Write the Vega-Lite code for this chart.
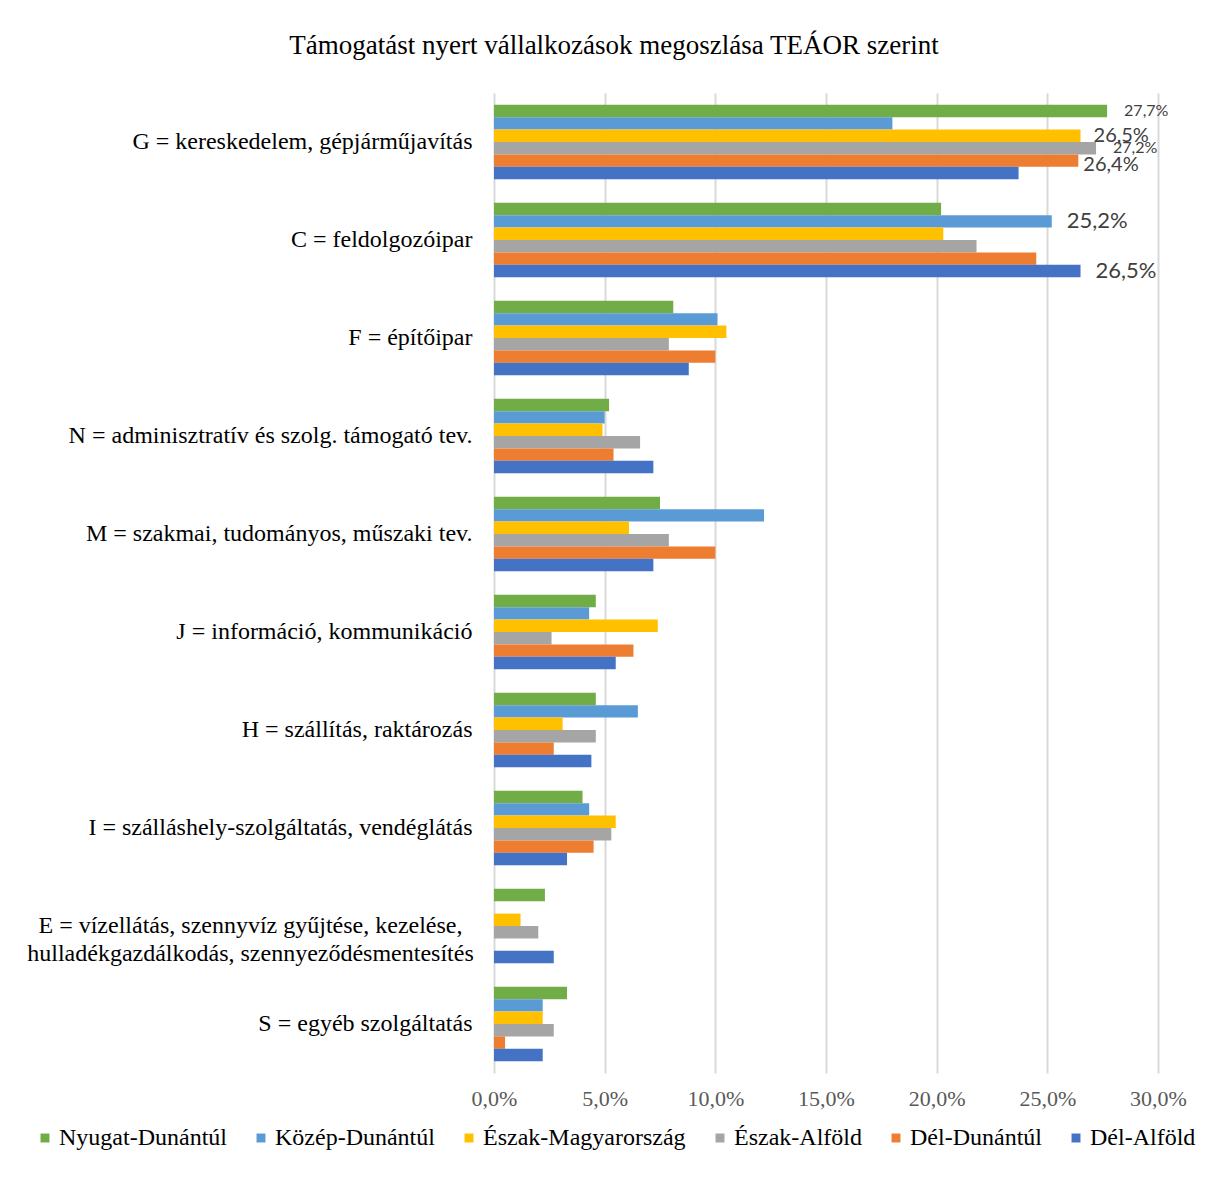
{
  "$schema": "https://vega.github.io/schema/vega-lite/v6.json",
  "autosize": {"type": "none"},
  "padding": {"left": 494, "top": 93, "right": 50, "bottom": 107},
  "width": 664,
  "height": 980,
  "background": "white",
  "config": {
    "locale": {"number": {"decimal": ",", "thousands": " ", "grouping": [3], "currency": ["", " Ft"]}},
    "view": {"stroke": null},
    "font": "Liberation Serif"
  },
  "title": {
    "text": "Támogatást nyert vállalkozások megoszlása TEÁOR szerint",
    "font": "Liberation Serif",
    "fontSize": 27,
    "fontWeight": "normal",
    "color": "#000000",
    "anchor": "middle",
    "frame": "group",
    "dx": -212,
    "offset": 33
  },
  "data": {
    "values": [
      {"cat": "G = kereskedelem, gépjárműjavítás", "region": "Nyugat-Dunántúl", "value": 0.277},
      {"cat": "G = kereskedelem, gépjárműjavítás", "region": "Közép-Dunántúl", "value": 0.180},
      {"cat": "G = kereskedelem, gépjárműjavítás", "region": "Észak-Magyarország", "value": 0.265},
      {"cat": "G = kereskedelem, gépjárműjavítás", "region": "Észak-Alföld", "value": 0.272},
      {"cat": "G = kereskedelem, gépjárműjavítás", "region": "Dél-Dunántúl", "value": 0.264},
      {"cat": "G = kereskedelem, gépjárműjavítás", "region": "Dél-Alföld", "value": 0.237},
      {"cat": "C = feldolgozóipar", "region": "Nyugat-Dunántúl", "value": 0.202},
      {"cat": "C = feldolgozóipar", "region": "Közép-Dunántúl", "value": 0.252},
      {"cat": "C = feldolgozóipar", "region": "Észak-Magyarország", "value": 0.203},
      {"cat": "C = feldolgozóipar", "region": "Észak-Alföld", "value": 0.218},
      {"cat": "C = feldolgozóipar", "region": "Dél-Dunántúl", "value": 0.245},
      {"cat": "C = feldolgozóipar", "region": "Dél-Alföld", "value": 0.265},
      {"cat": "F = építőipar", "region": "Nyugat-Dunántúl", "value": 0.081},
      {"cat": "F = építőipar", "region": "Közép-Dunántúl", "value": 0.101},
      {"cat": "F = építőipar", "region": "Észak-Magyarország", "value": 0.105},
      {"cat": "F = építőipar", "region": "Észak-Alföld", "value": 0.079},
      {"cat": "F = építőipar", "region": "Dél-Dunántúl", "value": 0.100},
      {"cat": "F = építőipar", "region": "Dél-Alföld", "value": 0.088},
      {"cat": "N = adminisztratív és szolg. támogató tev.", "region": "Nyugat-Dunántúl", "value": 0.052},
      {"cat": "N = adminisztratív és szolg. támogató tev.", "region": "Közép-Dunántúl", "value": 0.050},
      {"cat": "N = adminisztratív és szolg. támogató tev.", "region": "Észak-Magyarország", "value": 0.049},
      {"cat": "N = adminisztratív és szolg. támogató tev.", "region": "Észak-Alföld", "value": 0.066},
      {"cat": "N = adminisztratív és szolg. támogató tev.", "region": "Dél-Dunántúl", "value": 0.054},
      {"cat": "N = adminisztratív és szolg. támogató tev.", "region": "Dél-Alföld", "value": 0.072},
      {"cat": "M = szakmai, tudományos, műszaki tev.", "region": "Nyugat-Dunántúl", "value": 0.075},
      {"cat": "M = szakmai, tudományos, műszaki tev.", "region": "Közép-Dunántúl", "value": 0.122},
      {"cat": "M = szakmai, tudományos, műszaki tev.", "region": "Észak-Magyarország", "value": 0.061},
      {"cat": "M = szakmai, tudományos, műszaki tev.", "region": "Észak-Alföld", "value": 0.079},
      {"cat": "M = szakmai, tudományos, műszaki tev.", "region": "Dél-Dunántúl", "value": 0.100},
      {"cat": "M = szakmai, tudományos, műszaki tev.", "region": "Dél-Alföld", "value": 0.072},
      {"cat": "J = információ, kommunikáció", "region": "Nyugat-Dunántúl", "value": 0.046},
      {"cat": "J = információ, kommunikáció", "region": "Közép-Dunántúl", "value": 0.043},
      {"cat": "J = információ, kommunikáció", "region": "Észak-Magyarország", "value": 0.074},
      {"cat": "J = információ, kommunikáció", "region": "Észak-Alföld", "value": 0.026},
      {"cat": "J = információ, kommunikáció", "region": "Dél-Dunántúl", "value": 0.063},
      {"cat": "J = információ, kommunikáció", "region": "Dél-Alföld", "value": 0.055},
      {"cat": "H = szállítás, raktározás", "region": "Nyugat-Dunántúl", "value": 0.046},
      {"cat": "H = szállítás, raktározás", "region": "Közép-Dunántúl", "value": 0.065},
      {"cat": "H = szállítás, raktározás", "region": "Észak-Magyarország", "value": 0.031},
      {"cat": "H = szállítás, raktározás", "region": "Észak-Alföld", "value": 0.046},
      {"cat": "H = szállítás, raktározás", "region": "Dél-Dunántúl", "value": 0.027},
      {"cat": "H = szállítás, raktározás", "region": "Dél-Alföld", "value": 0.044},
      {"cat": "I = szálláshely-szolgáltatás, vendéglátás", "region": "Nyugat-Dunántúl", "value": 0.040},
      {"cat": "I = szálláshely-szolgáltatás, vendéglátás", "region": "Közép-Dunántúl", "value": 0.043},
      {"cat": "I = szálláshely-szolgáltatás, vendéglátás", "region": "Észak-Magyarország", "value": 0.055},
      {"cat": "I = szálláshely-szolgáltatás, vendéglátás", "region": "Észak-Alföld", "value": 0.053},
      {"cat": "I = szálláshely-szolgáltatás, vendéglátás", "region": "Dél-Dunántúl", "value": 0.045},
      {"cat": "I = szálláshely-szolgáltatás, vendéglátás", "region": "Dél-Alföld", "value": 0.033},
      {"cat": "E = vízellátás, szennyvíz gyűjtése, kezelése, hulladékgazdálkodás, szennyeződésmentesítés", "region": "Nyugat-Dunántúl", "value": 0.023},
      {"cat": "E = vízellátás, szennyvíz gyűjtése, kezelése, hulladékgazdálkodás, szennyeződésmentesítés", "region": "Észak-Magyarország", "value": 0.012},
      {"cat": "E = vízellátás, szennyvíz gyűjtése, kezelése, hulladékgazdálkodás, szennyeződésmentesítés", "region": "Észak-Alföld", "value": 0.020},
      {"cat": "E = vízellátás, szennyvíz gyűjtése, kezelése, hulladékgazdálkodás, szennyeződésmentesítés", "region": "Dél-Alföld", "value": 0.027},
      {"cat": "S = egyéb szolgáltatás", "region": "Nyugat-Dunántúl", "value": 0.033},
      {"cat": "S = egyéb szolgáltatás", "region": "Közép-Dunántúl", "value": 0.022},
      {"cat": "S = egyéb szolgáltatás", "region": "Észak-Magyarország", "value": 0.022},
      {"cat": "S = egyéb szolgáltatás", "region": "Észak-Alföld", "value": 0.027},
      {"cat": "S = egyéb szolgáltatás", "region": "Dél-Dunántúl", "value": 0.005},
      {"cat": "S = egyéb szolgáltatás", "region": "Dél-Alföld", "value": 0.022}
    ]
  },
  "encoding": {
    "y": {
      "field": "cat",
      "type": "nominal",
      "sort": null,
      "title": null,
      "scale": {"paddingInner": 0.24, "paddingOuter": 0.12},
      "axis": {
        "domain": false,
        "ticks": false,
        "labelFont": "Liberation Serif",
        "labelFontSize": 24,
        "labelColor": "#000000",
        "labelLimit": 600,
        "labelLineHeight": 28,
        "labelAlign": {"condition": {"test": "datum.value == 'E = vízellátás, szennyvíz gyűjtése, kezelése, hulladékgazdálkodás, szennyeződésmentesítés'", "value": "center"}, "value": "right"},
        "labelPadding": {"condition": {"test": "datum.value == 'E = vízellátás, szennyvíz gyűjtése, kezelése, hulladékgazdálkodás, szennyeződésmentesítés'", "value": 244}, "value": 22},
        "labelExpr": "datum.label == 'E = vízellátás, szennyvíz gyűjtése, kezelése, hulladékgazdálkodás, szennyeződésmentesítés' ? ['E = vízellátás, szennyvíz gyűjtése, kezelése,', 'hulladékgazdálkodás, szennyeződésmentesítés'] : datum.label"
      }
    },
    "yOffset": {
      "field": "region",
      "type": "nominal",
      "sort": ["Nyugat-Dunántúl", "Közép-Dunántúl", "Észak-Magyarország", "Észak-Alföld", "Dél-Dunántúl", "Dél-Alföld"],
      "scale": {"domain": ["Nyugat-Dunántúl", "Közép-Dunántúl", "Észak-Magyarország", "Észak-Alföld", "Dél-Dunántúl", "Dél-Alföld"], "paddingInner": 0, "paddingOuter": 0}
    },
    "x": {
      "field": "value",
      "type": "quantitative",
      "title": null,
      "scale": {"domain": [0, 0.3], "nice": false},
      "axis": {
        "format": ".1%",
        "values": [0, 0.05, 0.1, 0.15, 0.2, 0.25, 0.3],
        "domain": false,
        "ticks": false,
        "grid": true,
        "gridColor": "#d9d9d9",
        "gridWidth": 2,
        "labelFont": "Liberation Serif",
        "labelFontSize": 22,
        "labelColor": "#595959",
        "labelPadding": 15,
        "labelFlush": false
      }
    }
  },
  "layer": [
    {
      "mark": {"type": "bar"},
      "encoding": {
        "color": {
          "field": "region",
          "type": "nominal",
          "sort": ["Nyugat-Dunántúl", "Közép-Dunántúl", "Észak-Magyarország", "Észak-Alföld", "Dél-Dunántúl", "Dél-Alföld"],
          "scale": {
            "domain": ["Nyugat-Dunántúl", "Közép-Dunántúl", "Észak-Magyarország", "Észak-Alföld", "Dél-Dunántúl", "Dél-Alföld"],
            "range": ["#70AD47", "#5B9BD5", "#FFC000", "#A5A5A5", "#ED7D31", "#4472C4"]
          },
          "legend": {
            "title": null,
            "orient": "none",
            "direction": "horizontal",
            "legendX": -461,
            "legendY": 1033,
            "symbolType": "square",
            "symbolSize": 80,
            "symbolStrokeWidth": 0,
            "symbolOpacity": 1,
            "labelFont": "Liberation Serif",
            "labelFontSize": 24,
            "labelColor": "#000000",
            "labelOffset": 2,
            "columnPadding": 22,
            "labelLimit": 400
          }
        }
      }
    },
    {
      "transform": [{"filter": "datum.value >= 0.25 && (datum.region == 'Nyugat-Dunántúl' || datum.region == 'Észak-Alföld')"}],
      "mark": {"type": "text", "align": "left", "baseline": "middle", "dx": 17, "font": "Lato", "fontSize": 16, "color": "#404040"},
      "encoding": {"text": {"field": "value", "type": "quantitative", "format": ".1%"}}
    },
    {
      "transform": [{"filter": "datum.value >= 0.25 && datum.region == 'Észak-Magyarország'"}],
      "mark": {"type": "text", "align": "left", "baseline": "middle", "dx": 13, "font": "Lato", "fontSize": 20, "color": "#404040"},
      "encoding": {"text": {"field": "value", "type": "quantitative", "format": ".1%"}}
    },
    {
      "transform": [{"filter": "datum.value >= 0.25 && datum.region == 'Dél-Dunántúl'"}],
      "mark": {"type": "text", "align": "left", "baseline": "middle", "dx": 5, "dy": 4, "font": "Lato", "fontSize": 20, "color": "#404040"},
      "encoding": {"text": {"field": "value", "type": "quantitative", "format": ".1%"}}
    },
    {
      "transform": [{"filter": "datum.value >= 0.25 && (datum.region == 'Közép-Dunántúl' || datum.region == 'Dél-Alföld')"}],
      "mark": {"type": "text", "align": "left", "baseline": "middle", "dx": 15, "font": "Lato", "fontSize": 22, "color": "#404040"},
      "encoding": {"text": {"field": "value", "type": "quantitative", "format": ".1%"}}
    }
  ]
}
